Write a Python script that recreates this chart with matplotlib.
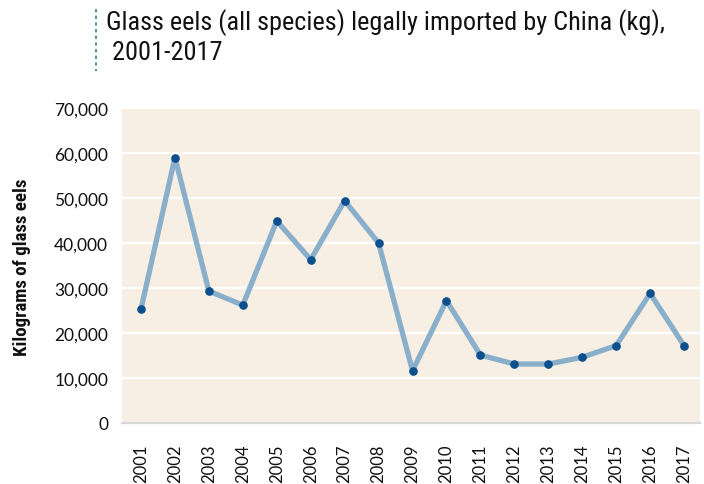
import matplotlib
matplotlib.use("Agg")
import matplotlib.pyplot as plt
from matplotlib.ticker import FuncFormatter
from matplotlib.lines import Line2D
from matplotlib import font_manager

years = [str(y) for y in range(2001, 2018)]
imports_kg = [25300, 59000, 29300, 26200, 44900, 36300, 49400, 40000,
              11600, 27200, 15100, 13100, 13100, 14600, 17200, 28800, 17200]
yticks = [0, 10000, 20000, 30000, 40000, 50000, 60000, 70000]
title_line1 = "Glass eels (all species) legally imported by China (kg),"
title = title_line1 + "\n 2001-2017"
ylabel = "Kilograms of glass eels"


def pick_narrow():
    prefs = ["Roboto Condensed", "Liberation Sans Narrow", "Open Sans Condensed",
             "DejaVu Sans Condensed", "Noto Sans Condensed"]
    names = {f.name for f in font_manager.fontManager.ttflist}
    for p in prefs:
        if p in names:
            return p
    for f in font_manager.fontManager.ttflist:
        st = f.stretch
        if isinstance(st, str) and "condensed" in st and "extra" not in st and "ultra" not in st:
            return f.name
    return "Roboto" if "Roboto" in names else "DejaVu Sans"


narrow = pick_narrow()

fig = plt.figure(figsize=(7.04, 4.85), dpi=100)
W, H = 704, 485
left, right, top, bottom = 122, 700, 109, 424
ax = fig.add_axes([left / W, 1 - bottom / H, (right - left) / W, (bottom - top) / H])
ax.set_facecolor("#F7EFE4")

x = list(range(len(years)))
ax.plot(x, imports_kg, color="#8AAFCB", lw=3.8, solid_joinstyle="round",
        solid_capstyle="round", zorder=3)
ax.plot(x, imports_kg, ls="none", marker="o", ms=5.2, color="#0B4F8C", zorder=4)

ax.set_ylim(0, 70000)
ax.set_xlim(-0.56, 16.47)
ax.set_yticks(yticks)
ax.yaxis.set_major_formatter(FuncFormatter(lambda v, p: f"{int(v):,}"))
ax.set_xticks(x)
ax.set_xticklabels(years, rotation=90)
ax.grid(axis="y", color="white", lw=1.6)
ax.set_axisbelow(True)
for s in ["left", "right", "top"]:
    ax.spines[s].set_visible(False)
ax.spines["bottom"].set_color("#D8D8D8")
ax.spines["bottom"].set_linewidth(1.6)
ax.tick_params(length=0, labelsize=12.5, colors="#111111")
ax.tick_params(axis="y", pad=10)
ax.tick_params(axis="x", pad=15, labelsize=12)
for lab in ax.get_xticklabels() + ax.get_yticklabels():
    lab.set_family("Lato")

renderer = fig.canvas.get_renderer()

# y label, fitted to the reference length (~180 px)
yl = fig.text(22 / W, 1 - 267 / H, ylabel, rotation=90, ha="center", va="center",
              fontsize=11.5, fontweight="bold", family=narrow, color="#111111")
h = yl.get_window_extent(renderer).height
yl.set_fontsize(min(14.5, 11.5 * 178 / h))

# title, first line fitted to the reference width (~560 px)
probe = fig.text(0, 0, title_line1, fontsize=20, family=narrow)
wpx = probe.get_window_extent(renderer).width
probe.remove()
tsize = min(20, 20 * 560 / wpx)
fig.text(106 / W, 1 - 37 / H, title, ha="left", va="center", fontsize=tsize,
         family=narrow, color="#111111", linespacing=1.3)
fig.add_artist(Line2D([96 / W, 96 / W], [1 - 10 / H, 1 - 72 / H],
                      transform=fig.transFigure, color="#3F73A8", lw=1.2,
                      ls=(0, (2, 2))))

fig.savefig("out.png", dpi=100)
